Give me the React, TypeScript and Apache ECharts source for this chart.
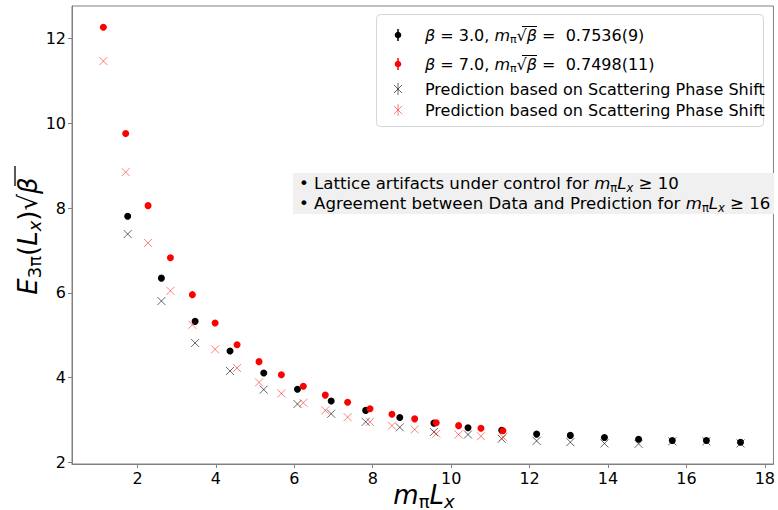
import React, { useEffect, useRef } from "react";
import * as echarts from "echarts";

const xTicks = [2, 4, 6, 8, 10, 12, 14, 16, 18];
const yTicks = [2, 4, 6, 8, 10, 12];

const xBeta3 = [1.75, 2.61, 3.47, 4.36, 5.22, 6.08, 6.94, 7.82, 8.69, 9.56, 10.43, 11.29, 12.18, 13.04, 13.91, 14.78, 15.64, 16.51, 17.38];
const yBeta3 = [7.81, 6.35, 5.33, 4.63, 4.11, 3.73, 3.45, 3.23, 3.06, 2.93, 2.82, 2.76, 2.67, 2.64, 2.59, 2.55, 2.52, 2.52, 2.48];
const yPredBeta3 = [7.39, 5.81, 4.82, 4.16, 3.72, 3.38, 3.15, 2.96, 2.83, 2.72, 2.66, 2.56, 2.51, 2.48, 2.45, 2.44, 2.50, 2.50, 2.45];

const xBeta7 = [1.13, 1.70, 2.27, 2.84, 3.40, 3.98, 4.54, 5.10, 5.67, 6.23, 6.79, 7.36, 7.93, 8.49, 9.07, 9.62, 10.19, 10.76, 11.32];
const yBeta7 = [12.27, 9.76, 8.06, 6.83, 5.96, 5.29, 4.78, 4.38, 4.07, 3.80, 3.59, 3.42, 3.27, 3.14, 3.03, 2.94, 2.87, 2.81, 2.75];
const yPredBeta7 = [11.47, 8.85, 7.18, 6.05, 5.25, 4.67, 4.23, 3.89, 3.63, 3.41, 3.23, 3.07, 2.96, 2.87, 2.78, 2.68, 2.66, 2.62, 2.60];

const legendLabels = [
  "{i|β}{n| = 3.0, }{i|m}{s|π}{n|√}{i|β}{n| =  0.7536(9)}",
  "{i|β}{n| = 7.0, }{i|m}{s|π}{n|√}{i|β}{n| =  0.7498(11)}",
  "{n|Prediction based on Scattering Phase Shift}",
  "{n|Prediction based on Scattering Phase Shift}",
];
const noteLines = [
  "{n|• Lattice artifacts under control for }{i|m}{s|π}{i|L}{si|x}{n| ≥ 10}",
  "{n|• Agreement between Data and Prediction for }{i|m}{s|π}{i|L}{si|x}{n| ≥ 16}",
];

const FONT = "DejaVu Sans";
const BLACK = "#000000";
const RED = "#ff0000";
const PRED_BLACK = "rgba(0,0,0,0.6)";
const PRED_RED = "rgba(255,0,0,0.5)";
const XPATH = "path://M0,0L10,10M10,0L0,10";

function richSet(size: number, subSize: number, subPad: number) {
  return {
    n: { fontSize: size, fontFamily: FONT, fill: "#000" },
    i: { fontSize: size, fontFamily: FONT, fontStyle: "italic", fill: "#000" },
    s: { fontSize: subSize, fontFamily: FONT, fill: "#000", padding: [subPad, 0, 0, 0] },
    si: { fontSize: subSize, fontFamily: FONT, fontStyle: "italic", fill: "#000", padding: [subPad, 0, 0, 0] },
  };
}

function zip(xs: number[], ys: number[]) {
  return xs.map((x, k) => [x, ys[k]]);
}

export default function App() {
  const ref = useRef<HTMLDivElement>(null);
  useEffect(() => {
    if (!ref.current) return;
    const chart = echarts.init(ref.current, undefined, { renderer: "svg" });
    const legendRows = [35, 64, 89, 110];
    const mx = 398;
    const graphics: any[] = [
      {
        type: "rect",
        shape: { x: 376.5, y: 14.5, width: 387, height: 112, r: 4 },
        style: { fill: "rgba(255,255,255,0.8)", stroke: "#d6d6d6", lineWidth: 1 },
        z: 100,
      },
      { type: "line", shape: { x1: mx, y1: legendRows[0] - 6, x2: mx, y2: legendRows[0] + 6 }, style: { stroke: BLACK, lineWidth: 1.5 }, z: 101 },
      { type: "circle", shape: { cx: mx, cy: legendRows[0], r: 3.3 }, style: { fill: BLACK }, z: 101 },
      { type: "line", shape: { x1: mx, y1: legendRows[1] - 6, x2: mx, y2: legendRows[1] + 6 }, style: { stroke: RED, lineWidth: 1.5 }, z: 101 },
      { type: "circle", shape: { cx: mx, cy: legendRows[1], r: 3.3 }, style: { fill: RED }, z: 101 },
      { type: "line", shape: { x1: mx, y1: legendRows[2] - 6, x2: mx, y2: legendRows[2] + 6 }, style: { stroke: PRED_BLACK, lineWidth: 1 }, z: 101 },
      { type: "line", shape: { x1: mx - 4, y1: legendRows[2] - 4, x2: mx + 4, y2: legendRows[2] + 4 }, style: { stroke: PRED_BLACK, lineWidth: 1 }, z: 101 },
      { type: "line", shape: { x1: mx + 4, y1: legendRows[2] - 4, x2: mx - 4, y2: legendRows[2] + 4 }, style: { stroke: PRED_BLACK, lineWidth: 1 }, z: 101 },
      { type: "line", shape: { x1: mx, y1: legendRows[3] - 6, x2: mx, y2: legendRows[3] + 6 }, style: { stroke: PRED_RED, lineWidth: 1 }, z: 101 },
      { type: "line", shape: { x1: mx - 4, y1: legendRows[3] - 4, x2: mx + 4, y2: legendRows[3] + 4 }, style: { stroke: PRED_RED, lineWidth: 1 }, z: 101 },
      { type: "line", shape: { x1: mx + 4, y1: legendRows[3] - 4, x2: mx - 4, y2: legendRows[3] + 4 }, style: { stroke: PRED_RED, lineWidth: 1 }, z: 101 },
    ];
    legendLabels.forEach((t, k) => {
      graphics.push({
        type: "text",
        x: 425,
        y: legendRows[k],
        z: 102,
        style: { text: t, rich: richSet(16, 11, 8), fontSize: 16, fontFamily: FONT, fill: "#000", align: "left", verticalAlign: "middle" },
      });
    });
    [legendRows[0], legendRows[1]].forEach((ry) => {
      graphics.push({ type: "line", shape: { x1: 522, y1: ry - 8.5, x2: 537, y2: ry - 8.5 }, style: { stroke: "#000", lineWidth: 1 }, z: 102 });
    });
    graphics.push({
      type: "rect",
      shape: { x: 293, y: 173, width: 481, height: 41 },
      style: { fill: "#f0f0f0" },
      z: 90,
    });
    noteLines.forEach((t, k) => {
      graphics.push({
        type: "text",
        x: 299,
        y: 183.5 + 20 * k,
        z: 91,
        style: { text: t, rich: richSet(16.6, 11.5, 8), fontSize: 16.6, fontFamily: FONT, fill: "#000", align: "left", verticalAlign: "middle" },
      });
    });
    graphics.push({
      type: "text",
      x: 424,
      y: 495,
      style: { text: "{i|m}{s|π}{i|L}{si|x}", rich: richSet(26, 18, 12), fontSize: 26, fontFamily: FONT, fill: "#000", align: "center", verticalAlign: "middle" },
    });
    graphics.push({
      type: "text",
      x: 28,
      y: 236,
      rotation: Math.PI / 2,
      style: { text: "{i|E}{s|3π}{n|(}{i|L}{si|x}{n|)√}{i|β}", rich: richSet(26, 18, 12), fontSize: 26, fontFamily: FONT, fill: "#000", align: "center", verticalAlign: "middle" },
    });
    graphics.push({ type: "line", shape: { x1: 15, y1: 166, x2: 15, y2: 186 }, style: { stroke: "#000", lineWidth: 1.3 } });

    const option: any = {
      animation: false,
      backgroundColor: "#ffffff",
      grid: { left: 72, right: 2, top: 6, bottom: 46, show: true, borderColor: "#808080", borderWidth: 1, backgroundColor: "transparent" },
      xAxis: {
        type: "value",
        min: 0.33,
        max: 18.22,
        splitLine: { show: false },
        axisLine: { show: true, lineStyle: { color: "#808080", width: 1 } },
        axisTick: { show: true, inside: false, length: 4, customValues: xTicks, lineStyle: { color: "#808080" } },
        axisLabel: { customValues: xTicks, fontSize: 16, fontFamily: FONT, color: "#000", margin: 6 },
      },
      yAxis: {
        type: "value",
        min: 1.965,
        max: 12.77,
        splitLine: { show: false },
        axisLine: { show: true, lineStyle: { color: "#808080", width: 1 } },
        axisTick: { show: true, inside: false, length: 4, customValues: yTicks, lineStyle: { color: "#808080" } },
        axisLabel: { customValues: yTicks, fontSize: 16, fontFamily: FONT, color: "#000", margin: 6 },
      },
      series: [
        {
          name: "beta3",
          type: "scatter",
          data: zip(xBeta3, yBeta3),
          symbol: "circle",
          symbolSize: 7,
          itemStyle: { color: BLACK, opacity: 1 },
          z: 2,
        },
        {
          name: "beta7",
          type: "scatter",
          data: zip(xBeta7, yBeta7),
          symbol: "circle",
          symbolSize: 7,
          itemStyle: { color: RED, opacity: 1 },
          z: 3,
        },
        {
          name: "pred3",
          type: "scatter",
          data: zip(xBeta3, yPredBeta3),
          symbol: XPATH,
          symbolSize: 8,
          itemStyle: { color: "transparent", borderColor: PRED_BLACK, borderWidth: 1, opacity: 1 },
          z: 4,
        },
        {
          name: "pred7",
          type: "scatter",
          data: zip(xBeta7, yPredBeta7),
          symbol: XPATH,
          symbolSize: 8,
          itemStyle: { color: "transparent", borderColor: PRED_RED, borderWidth: 1, opacity: 1 },
          z: 5,
        },
      ],
      graphic: graphics,
    };
    chart.setOption(option);
    return () => chart.dispose();
  }, []);
  return (
    <div
      ref={ref}
      style={{ position: "fixed", left: 0, top: 0, width: 778, height: 510, background: "#fff" }}
    />
  );
}
